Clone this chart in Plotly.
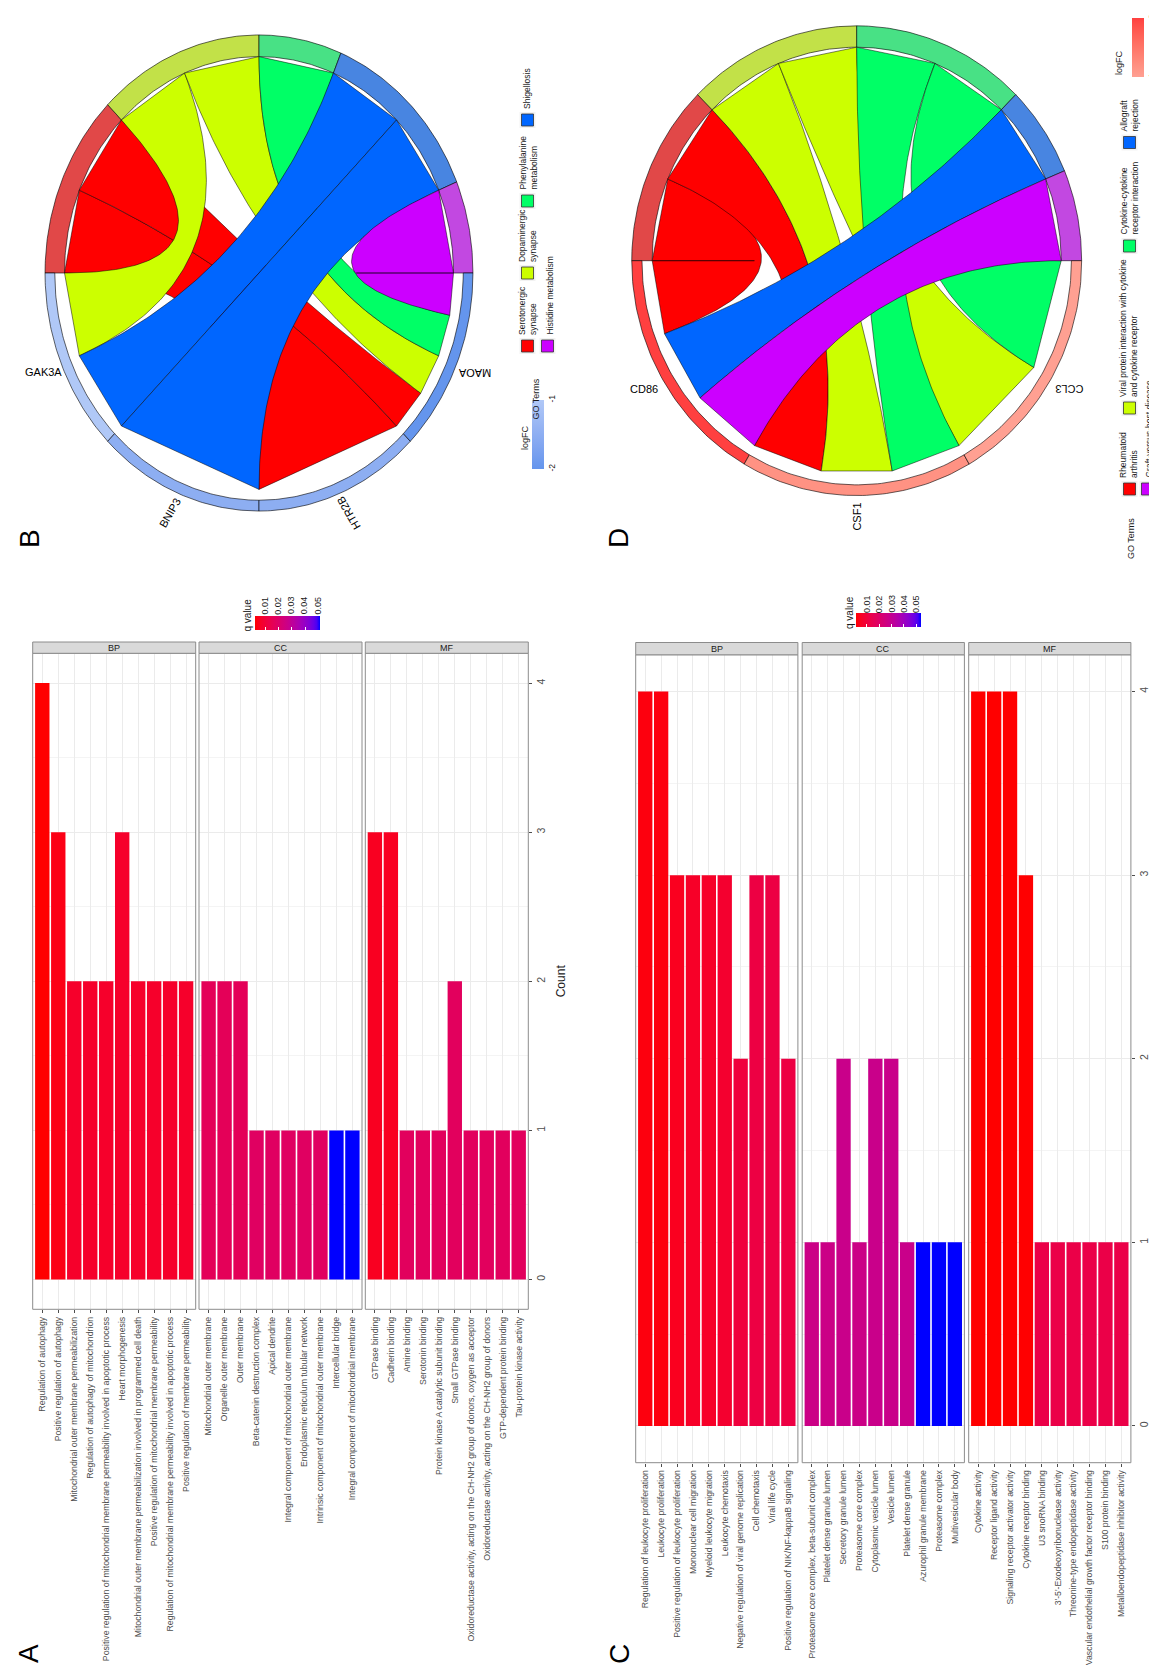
import numpy as np
import plotly.graph_objects as go

W, H = 1157, 1665
FONT = "Liberation Sans, Arial, sans-serif"

# ---------------- Panel A data ----------------
A_BP_terms = ["Regulation of autophagy", "Positive regulation of autophagy",
              "Mitochondrial outer membrane permeabilization",
              "Regulation of autophagy of mitochondrion",
              "Positive regulation of mitochondrial membrane permeability involved in apoptotic process",
              "Heart morphogenesis",
              "Mitochondrial outer membrane permeabilization involved in programmed cell death",
              "Positive regulation of mitochondrial membrane permeability",
              "Regulation of mitochondrial membrane permeability involved in apoptotic process",
              "Positive regulation of membrane permeability"]
A_BP_count = [4, 3, 2, 2, 2, 3, 2, 2, 2, 2]
A_BP_q = [0.0020, 0.0040, 0.0070, 0.0070, 0.0070, 0.0070, 0.0070, 0.0070, 0.0070, 0.0070]

A_CC_terms = ["Mitochondrial outer membrane", "Organelle outer membrane", "Outer membrane",
              "Beta-catenin destruction complex", "Apical dendrite",
              "Integral component of mitochondrial outer membrane",
              "Endoplasmic reticulum tubular network",
              "Intrinsic component of mitochondrial outer membrane",
              "Intercellular bridge", "Integral component of mitochondrial membrane"]
A_CC_count = [2, 2, 2, 1, 1, 1, 1, 1, 1, 1]
A_CC_q = [0.0160, 0.0160, 0.0160, 0.0180, 0.0180, 0.0180, 0.0180, 0.0180, 0.0507, 0.0507]

A_MF_terms = ["GTPase binding", "Cadherin binding", "Amine binding", "Serotonin binding",
              "Protein kinase A catalytic subunit binding", "Small GTPase binding",
              "Oxidoreductase activity, acting on the CH-NH2 group of donors, oxygen as acceptor",
              "Oxidoreductase activity, acting on the CH-NH2 group of donors",
              "GTP-dependent protein binding", "Tau-protein kinase activity"]
A_MF_count = [3, 3, 1, 1, 1, 2, 1, 1, 1, 1]
A_MF_q = [0.0055, 0.0055, 0.0170, 0.0170, 0.0170, 0.0170, 0.0170, 0.0170, 0.0170, 0.0170]

# ---------------- Panel C data ----------------
C_BP_terms = ["Regulation of leukocyte proliferation", "Leukocyte proliferation",
              "Positive regulation of leukocyte proliferation", "Mononuclear cell migration",
              "Myeloid leukocyte migration", "Leukocyte chemotaxis",
              "Negative regulation of viral genome replication", "Cell chemotaxis",
              "Viral life cycle", "Positive regulation of NIK/NF-kappaB signaling"]
C_BP_count = [4, 4, 3, 3, 3, 3, 2, 3, 3, 2]
C_BP_q = [0.0025, 0.0025, 0.0045, 0.0060, 0.0060, 0.0075, 0.0100, 0.0115, 0.0115, 0.0115]

C_CC_terms = ["Proteasome core complex, beta-subunit complex", "Platelet dense granule lumen",
              "Secretory granule lumen", "Proteasome core complex", "Cytoplasmic vesicle lumen",
              "Vesicle lumen", "Platelet dense granule", "Azurophil granule membrane",
              "Proteasome complex", "Multivesicular body"]
C_CC_count = [1, 1, 2, 1, 2, 2, 1, 1, 1, 1]
C_CC_q = [0.0270, 0.0270, 0.0280, 0.0270, 0.0280, 0.0280, 0.0280, 0.0540, 0.0540, 0.0540]

C_MF_terms = ["Cytokine activity", "Receptor ligand activity", "Signaling receptor activator activity",
              "Cytokine receptor binding", "U3 snoRNA binding", "3'-5'-Exodeoxyribonuclease activity",
              "Threonine-type endopeptidase activity",
              "Vascular endothelial growth factor receptor binding", "S100 protein binding",
              "Metalloendopeptidase inhibitor activity"]
C_MF_count = [4, 4, 4, 3, 1, 1, 1, 1, 1, 1]
C_MF_q = [0.0011, 0.0011, 0.0011, 0.0012, 0.0125, 0.0125, 0.0125, 0.0125, 0.0125, 0.0125]

Q_TICKS = [0.01, 0.02, 0.03, 0.04, 0.05]

# ---------------- Panel B data (chord) ----------------
B_genes = ["GAK3A", "BNIP3", "HTR2B", "MAOA"]
B_logFC = [-1.0, -1.5, -1.5, -2.0]
B_terms = ["Serotonergic synapse", "Dopaminergic synapse", "Phenylalanine metabolism",
           "Shigellosis", "Histidine metabolism"]
B_legend_text = ["Serotonergic<br>synapse", "Dopaminergic<br>synapse", "Phenylalanine<br>metabolism",
                 "Shigellosis", "Histidine metabolism"]
B_links = [[0, 1, 0, 1, 0],
           [0, 0, 0, 1, 0],
           [1, 0, 0, 0, 0],
           [1, 1, 1, 0, 1]]

# ---------------- Panel D data (chord) ----------------
D_genes = ["CD86", "CSF1", "CCL3"]
D_logFC = [2.0, 1.25, 1.1]
D_terms = ["Rheumatoid arthritis", "Viral protein interaction with cytokine and cytokine receptor",
           "Cytokine-cytokine receptor interaction", "Allograft rejection", "Graft-versus-host disease"]
D_legend_text = ["Rheumatoid<br>arthritis", "Viral protein interaction with cytokine<br>and cytokine receptor",
                 "Cytokine-cytokine<br>receptor interaction", "Allograft<br>rejection",
                 "Graft-versus-host disease"]
D_links = [[1, 0, 0, 1, 1],
           [1, 1, 1, 0, 0],
           [0, 1, 1, 0, 0]]

TERM_COLORS = ["#FF0000", "#CCFF00", "#00FF66", "#0066FF", "#CC00FF"]


# ---------------- colour helpers (CIELAB interpolation like ggplot2) ----------------
def hex2rgb(h):
    h = h.lstrip('#')
    return [int(h[i:i + 2], 16) / 255 for i in (0, 2, 4)]


def rgb2lab(rgb):
    def lin(c):
        return c / 12.92 if c <= 0.04045 else ((c + 0.055) / 1.055) ** 2.4
    r, g, b = [lin(c) for c in rgb]
    X = (0.4124564 * r + 0.3575761 * g + 0.1804375 * b) / 0.95047
    Y = (0.2126729 * r + 0.7151522 * g + 0.0721750 * b)
    Z = (0.0193339 * r + 0.1191920 * g + 0.9503041 * b) / 1.08883

    def f(t):
        return t ** (1 / 3) if t > 0.008856 else 7.787 * t + 16 / 116
    fx, fy, fz = f(X), f(Y), f(Z)
    return (116 * fy - 16, 500 * (fx - fy), 200 * (fy - fz))


def lab2hex(L, a, b):
    fy = (L + 16) / 116
    fx = fy + a / 500
    fz = fy - b / 200

    def finv(t):
        return t ** 3 if t ** 3 > 0.008856 else (t - 16 / 116) / 7.787
    X = 0.95047 * finv(fx)
    Y = finv(fy)
    Z = 1.08883 * finv(fz)
    r = 3.2404542 * X - 1.5371385 * Y - 0.4985314 * Z
    g = -0.9692660 * X + 1.8760108 * Y + 0.0415560 * Z
    bb = 0.0556434 * X - 0.2040259 * Y + 1.0572252 * Z

    def gam(c):
        c = min(max(c, 0), 1)
        return 12.92 * c if c <= 0.0031308 else 1.055 * c ** (1 / 2.4) - 0.055
    return '#%02x%02x%02x' % tuple(int(round(gam(c) * 255)) for c in (r, g, bb))


def lab_mix(c1, c2, t):
    l1 = rgb2lab(hex2rgb(c1))
    l2 = rgb2lab(hex2rgb(c2))
    return lab2hex(*[(1 - t) * p + t * q for p, q in zip(l1, l2)])


def blend_ring(c):
    r, g, b = hex2rgb(c)
    base = 179 / 255
    return 'rgb(%d,%d,%d)' % tuple(int(round((0.6 * v + 0.4 * base) * 255)) for v in (r, g, b))


def lfc_color(v, vmax):
    t = 0.5 + v / (2 * vmax)
    if t < 0.5:
        return lab_mix("#6495ED", "#F0FFFF", t / 0.5)
    return lab_mix("#F0FFFF", "#FF4040", (t - 0.5) / 0.5)


def norm_angle(a):
    return (a + 180.0) % 360.0 - 180.0


def xn(n):
    return 'x' if n == 1 else 'x%d' % n


def yn(n):
    return 'y' if n == 1 else 'y%d' % n


def xkey(n):
    return 'xaxis' if n == 1 else 'xaxis%d' % n


def ykey(n):
    return 'yaxis' if n == 1 else 'yaxis%d' % n


Q_SCALE = [[s, lab_mix("#FF0000", "#0000FF", s)] for s in np.linspace(0, 1, 21)]

fig = go.Figure()
layout = dict(width=W, height=H, margin=dict(l=0, r=0, t=0, b=0, pad=0),
              paper_bgcolor='white', plot_bgcolor='white', showlegend=False,
              template='none', font=dict(family=FONT, color='#1A1A1A'))
annotations = []
shapes = []


def py(y):
    return 1 - y / H


# ---------------- bar panels ----------------
panels = [
    dict(facets=[("BP", A_BP_terms, A_BP_count, A_BP_q), ("CC", A_CC_terms, A_CC_count, A_CC_q),
                 ("MF", A_MF_terms, A_MF_count, A_MF_q)],
         x0=24.7, fw=163.0, gap=3.3, ytop=645.3, ybot=1301.3, strip_top=634.0,
         cax='coloraxis', fs=8.75, first=1, yk=1, count_x=553,
         leg=dict(x0=246.5, len=64.5, ytop=611.0, th=13.5, lab_y=597.5, title_x=238.5, title_y=607)),
    dict(facets=[("BP", C_BP_terms, C_BP_count, C_BP_q), ("CC", C_CC_terms, C_CC_count, C_CC_q),
                 ("MF", C_MF_terms, C_MF_count, C_MF_q)],
         x0=627.7, fw=162.2, gap=4.3, ytop=646.8, ybot=1454.7, strip_top=634.5,
         cax='coloraxis2', fs=8.7, first=4, yk=2, count_x=1151,
         leg=dict(x0=848.0, len=65.0, ytop=608.5, th=13.5, lab_y=596.0, title_x=841.0, title_y=605)),
]

for P in panels:
    yk = P['yk']
    last = P['first'] + 2
    allq = []
    for i, (strip, terms, counts, qs) in enumerate(P['facets']):
        n = P['first'] + i
        allq += qs
        xa0 = P['x0'] + i * (P['fw'] + P['gap'])
        xa1 = xa0 + P['fw']
        idx = list(range(len(terms)))
        fig.add_trace(go.Bar(x=idx, y=counts, width=0.9, xaxis=xn(n), yaxis=yn(yk),
                             marker=dict(color=qs, coloraxis=P['cax'], line=dict(width=0)),
                             hoverinfo='skip'))
        layout[xkey(n)] = dict(domain=[xa0 / W, xa1 / W], range=[-0.6, len(terms) - 0.4],
                               tickvals=idx, ticktext=terms, tickangle=-90,
                               tickfont=dict(size=P['fs'], color='#4D4D4D', family=FONT),
                               ticks='outside', ticklen=3, tickcolor='#4D4D4D', tickwidth=0.8,
                               showgrid=True, gridcolor='#EBEBEB', gridwidth=1,
                               zeroline=False, showline=False, anchor=yn(yk),
                               automargin=False, fixedrange=True)
        shapes.append(dict(type='rect', xref=xn(n) + ' domain', yref=yn(yk) + ' domain',
                           x0=0, x1=1, y0=0, y1=1, line=dict(color='#8C8C8C', width=1),
                           fillcolor='rgba(0,0,0,0)', layer='above'))
        shapes.append(dict(type='rect', xref=xn(n) + ' domain', yref='paper', x0=0, x1=1,
                           y0=py(P['ytop']), y1=py(P['strip_top']),
                           line=dict(color='#8C8C8C', width=1), fillcolor='#D9D9D9', layer='above'))
        annotations.append(dict(xref=xn(n) + ' domain', yref='paper', x=0.5,
                                y=py((P['ytop'] + P['strip_top']) / 2), text=strip, showarrow=False,
                                font=dict(size=9, color='#1A1A1A', family=FONT),
                                xanchor='center', yanchor='middle'))
    layout[ykey(yk)] = dict(domain=[py(P['ybot']), py(P['ytop'])], range=[-0.2, 4.2],
                            anchor=xn(last), side='right', tickvals=[0, 1, 2, 3, 4],
                            tickangle=-90, ticks='outside', ticklen=3, tickcolor='#4D4D4D',
                            tickwidth=0.8,
                            tickfont=dict(size=10.5, color='#4D4D4D', family=FONT),
                            showgrid=True, gridcolor='#EBEBEB', gridwidth=1,
                            minor=dict(dtick=0.5, tick0=0, showgrid=True, gridcolor='#F4F4F4',
                                       gridwidth=0.6, ticks=''),
                            zeroline=False, showline=False, automargin=False, fixedrange=True)
    annotations.append(dict(xref='paper', yref='paper', x=P['count_x'] / W,
                            y=py((P['ytop'] + P['ybot']) / 2), text='Count', textangle=-90,
                            showarrow=False, font=dict(size=12, color='#1A1A1A', family=FONT),
                            xanchor='center', yanchor='middle'))
    L = P['leg']
    cmin, cmax = min(allq), max(allq)
    layout[P['cax']] = dict(colorscale=Q_SCALE, cmin=cmin, cmax=cmax,
                            colorbar=dict(orientation='h', x=L['x0'] / W, xanchor='left',
                                          y=py(L['ytop'] + L['th']), yanchor='bottom',
                                          len=L['len'], lenmode='pixels', thickness=L['th'],
                                          xpad=0, ypad=0, outlinewidth=0, ticks='inside',
                                          ticklen=3, tickcolor='white', tickvals=Q_TICKS,
                                          showticklabels=False))
    for qv in Q_TICKS:
        xx = L['x0'] + (qv - cmin) / (cmax - cmin) * L['len']
        annotations.append(dict(xref='paper', yref='paper', x=xx / W, y=py(L['lab_y']),
                                text='%.2f' % qv, textangle=-90, showarrow=False,
                                font=dict(size=9, color='#1A1A1A', family=FONT),
                                xanchor='center', yanchor='middle'))
    annotations.append(dict(xref='paper', yref='paper', x=L['title_x'] / W, y=py(L['title_y']),
                            text='q value', textangle=-90, showarrow=False,
                            font=dict(size=10, color='#1A1A1A', family=FONT),
                            xanchor='center', yanchor='middle'))


# ---------------- chord diagrams (GOChord geometry) ----------------
def chord_geometry(mat):
    cdata = np.array(mat, dtype=int)
    nrib = cdata.sum(axis=0)
    ngen = cdata.sum(axis=1)
    Nrow, Ncol = cdata.shape
    tot = nrib.sum()
    xs = [0.0]
    xm = []
    for r in range(Ncol):
        perc = nrib[r] / tot
        xm.append(np.pi * perc)
        if len(xs) <= Ncol - 1:
            xs.append(xs[r] + np.pi * perc)
    x2 = np.linspace(0, -np.pi + np.pi / Nrow, Nrow)
    xm2 = -np.pi / Nrow
    rows = []
    for g in range(Nrow):
        val = np.linspace(x2[g], x2[g] + xm2, ngen[g] + 1)
        pros = np.where(cdata[g] != 0)[0]
        for v in range(len(val) - 1):
            rows.append((pros[v], np.sin(val[v]), np.cos(val[v])))
            rows.append((pros[v], np.sin(val[v + 1]), np.cos(val[v + 1])))
    rows.sort(key=lambda r: (r[0], -r[2]))
    starts = []
    for t in range(Ncol):
        val = np.linspace(xs[t], xs[t] + xm[t], nrib[t] + 1)
        for v in range(len(val) - 1):
            starts.append((np.sin(val[v]), np.cos(val[v])))
            starts.append((np.sin(val[v + 1]), np.cos(val[v + 1])))
    tt = np.linspace(0, 1, 101)
    ribbons = []
    for n in range(0, len(rows), 2):
        xa = (1 - tt) ** 2 * starts[n][0] + tt ** 2 * rows[n][1]
        ya = (1 - tt) ** 2 * starts[n][1] + tt ** 2 * rows[n][2]
        xb = (1 - tt) ** 2 * starts[n + 1][0] + tt ** 2 * rows[n + 1][1]
        yb = (1 - tt) ** 2 * starts[n + 1][1] + tt ** 2 * rows[n + 1][2]
        ribbons.append((rows[n][0], np.concatenate([xa, xb[::-1]]), np.concatenate([ya, yb[::-1]])))
    return xs, xm, x2, xm2, ribbons


def ring(a0, a1, ri, ro):
    h = np.linspace(a0, a1, 60)
    x = np.concatenate([ri * np.sin(h), ro * np.sin(h[::-1])])
    y = np.concatenate([ri * np.cos(h), ro * np.cos(h[::-1])])
    return np.append(x, x[0]), np.append(y, y[0])


def to_img(x, y):
    # whole figure is rotated 90 degrees counter-clockwise
    return -np.asarray(y), np.asarray(x)


chords = [
    dict(genes=B_genes, lfc=B_logFC, terms=B_terms, links=B_links, legtext=B_legend_text,
         xi=7, yi=3, cx=251, cy=265, sx=194.5, sy=216.4, cax='coloraxis3',
         cb=dict(x=524, y0=392, y1=461, th=12, title=(517, 415.5)),
         goterms=(528, 369),
         keys=[(519.5, 338), (519.5, 265), (519.5, 193), (519.5, 112), (539.5, 338)],
         labx=[519.5, 519.5, 519.5, 519.5, 541.5]),
    dict(genes=D_genes, lfc=D_logFC, terms=D_terms, links=D_links, legtext=D_legend_text,
         xi=8, yi=4, cx=848.7, cy=252.7, sx=204.5, sy=213.5, cax='coloraxis4',
         cb=dict(x=1124, y0=10, y1=69, th=12, title=(1117.5, 40)),
         goterms=(1130, 508.6),
         keys=[(1121.5, 481), (1121.5, 400), (1121.5, 238), (1121.5, 134.5), (1139.5, 481)],
         labx=[1121, 1121, 1121, 1121, 1140.5]),
]

for C in chords:
    xr = 1.25
    ytop_r, ybot_r = 1.15, 1.3
    xa, ya = xn(C['xi']), yn(C['yi'])
    layout[xkey(C['xi'])] = dict(domain=[(C['cx'] - xr * C['sx']) / W, (C['cx'] + xr * C['sx']) / W],
                                 range=[-xr, xr], visible=False, anchor=ya, fixedrange=True)
    layout[ykey(C['yi'])] = dict(domain=[py(C['cy'] + ybot_r * C['sy']), py(C['cy'] - ytop_r * C['sy'])],
                                 range=[-ybot_r, ytop_r], visible=False, anchor=xa, fixedrange=True)
    xs, xm, x2, xm2, ribbons = chord_geometry(C['links'])
    # term ring
    for t in range(len(C['terms'])):
        rx, ry = ring(xs[t], xs[t] + xm[t], 1.0, 1.1)
        X, Y = to_img(rx, ry)
        fig.add_trace(go.Scatter(x=X, y=Y, xaxis=xa, yaxis=ya, mode='lines', fill='toself',
                                 fillcolor=blend_ring(TERM_COLORS[t]),
                                 line=dict(color='black', width=0.6), hoverinfo='skip'))
    # ribbons
    for (p, rx, ry) in ribbons:
        X, Y = to_img(rx, ry)
        fig.add_trace(go.Scatter(x=np.append(X, X[0]), y=np.append(Y, Y[0]), xaxis=xa, yaxis=ya,
                                 mode='lines', fill='toself', fillcolor=TERM_COLORS[p],
                                 line=dict(color='black', width=0.5), hoverinfo='skip'))
    # gene ring
    vmax = max(abs(v) for v in C['lfc'])
    for g in range(len(C['genes'])):
        rx, ry = ring(x2[g], x2[g] + xm2, 1.05, 1.1)
        X, Y = to_img(rx, ry)
        fig.add_trace(go.Scatter(x=X, y=Y, xaxis=xa, yaxis=ya, mode='lines', fill='toself',
                                 fillcolor=lfc_color(C['lfc'][g], vmax),
                                 line=dict(color='black', width=0.6), hoverinfo='skip'))
    # gene labels (GOChord: angles evenly spread from 270 to 90 degrees)
    mids = x2 + xm2 / 2
    gx, gy = to_img(1.2 * np.sin(mids), 1.2 * np.cos(mids))
    aseq = np.linspace(0, 180, len(C['genes']))
    for g, name in enumerate(C['genes']):
        ang = aseq[g] + 270 if aseq[g] + 270 <= 360 else aseq[g] - 90
        img_dir = ang + 90
        annotations.append(dict(xref=xa, yref=ya, x=gx[g], y=gy[g], text=name,
                                textangle=norm_angle(-img_dir), showarrow=False,
                                font=dict(size=11, color='black', family=FONT),
                                xanchor='center', yanchor='middle'))
    # invisible markers carrying the logFC colour scale (for the colour bar)
    mx, my = to_img(1.075 * np.sin(mids), 1.075 * np.cos(mids))
    fig.add_trace(go.Scatter(x=mx, y=my, xaxis=xa, yaxis=ya, mode='markers',
                             marker=dict(color=C['lfc'], coloraxis=C['cax'], size=1, opacity=0),
                             hoverinfo='skip'))
    lmin, lmax = min(C['lfc']), max(C['lfc'])
    cb = C['cb']
    layout[C['cax']] = dict(colorscale=[[s, lfc_color(lmin + s * (lmax - lmin), vmax)]
                                        for s in np.linspace(0, 1, 11)],
                            cmin=lmin, cmax=lmax,
                            colorbar=dict(orientation='v', x=cb['x'] / W, xanchor='left',
                                          y=py((cb['y0'] + cb['y1']) / 2), yanchor='middle',
                                          len=cb['y1'] - cb['y0'], lenmode='pixels',
                                          thickness=cb['th'], xpad=0, ypad=0, outlinewidth=0,
                                          ticks='', tickvals=[lmin, lmax],
                                          ticktext=[str(int(round(lmin))), str(int(round(lmax)))],
                                          tickangle=-90,
                                          tickfont=dict(size=8.5, color='#1A1A1A', family=FONT)))
    annotations.append(dict(xref='paper', yref='paper', x=cb['title'][0] / W, y=py(cb['title'][1]),
                            text='logFC', textangle=-90, showarrow=False,
                            font=dict(size=9, color='#1A1A1A', family=FONT)))
    annotations.append(dict(xref='paper', yref='paper', x=C['goterms'][0] / W, y=py(C['goterms'][1]),
                            text='GO Terms', textangle=-90, showarrow=False,
                            font=dict(size=9, color='#1A1A1A', family=FONT)))
    for t, (kx, ky) in enumerate(C['keys']):
        shapes.append(dict(type='rect', xref='paper', yref='paper', x0=(kx - 8) / W, x1=(kx + 8) / W,
                           y0=py(ky + 8), y1=py(ky - 8), fillcolor='#F2F2F2', line=dict(width=0)))
        shapes.append(dict(type='rect', xref='paper', yref='paper', x0=(kx - 6) / W, x1=(kx + 6) / W,
                           y0=py(ky + 6), y1=py(ky - 6), fillcolor=TERM_COLORS[t],
                           line=dict(color='#333333', width=0.8)))
        annotations.append(dict(xref='paper', yref='paper', x=C['labx'][t] / W, y=py(ky - 9),
                                text=C['legtext'][t], textangle=-90, showarrow=False, align='left',
                                font=dict(size=8.5, color='#1A1A1A', family=FONT),
                                xanchor='center', yanchor='bottom'))

# ---------------- panel letters ----------------
for txt, (lx, ly) in zip(["A", "B", "C", "D"], [(20, 1646), (22, 530), (611, 1646), (611, 530)]):
    annotations.append(dict(xref='paper', yref='paper', x=lx / W, y=py(ly), text=txt, textangle=-90,
                            showarrow=False, font=dict(size=28, color='black', family=FONT),
                            xanchor='center', yanchor='middle'))

layout['annotations'] = annotations
layout['shapes'] = shapes
fig.update_layout(**layout)
fig.write_html("out.html")
